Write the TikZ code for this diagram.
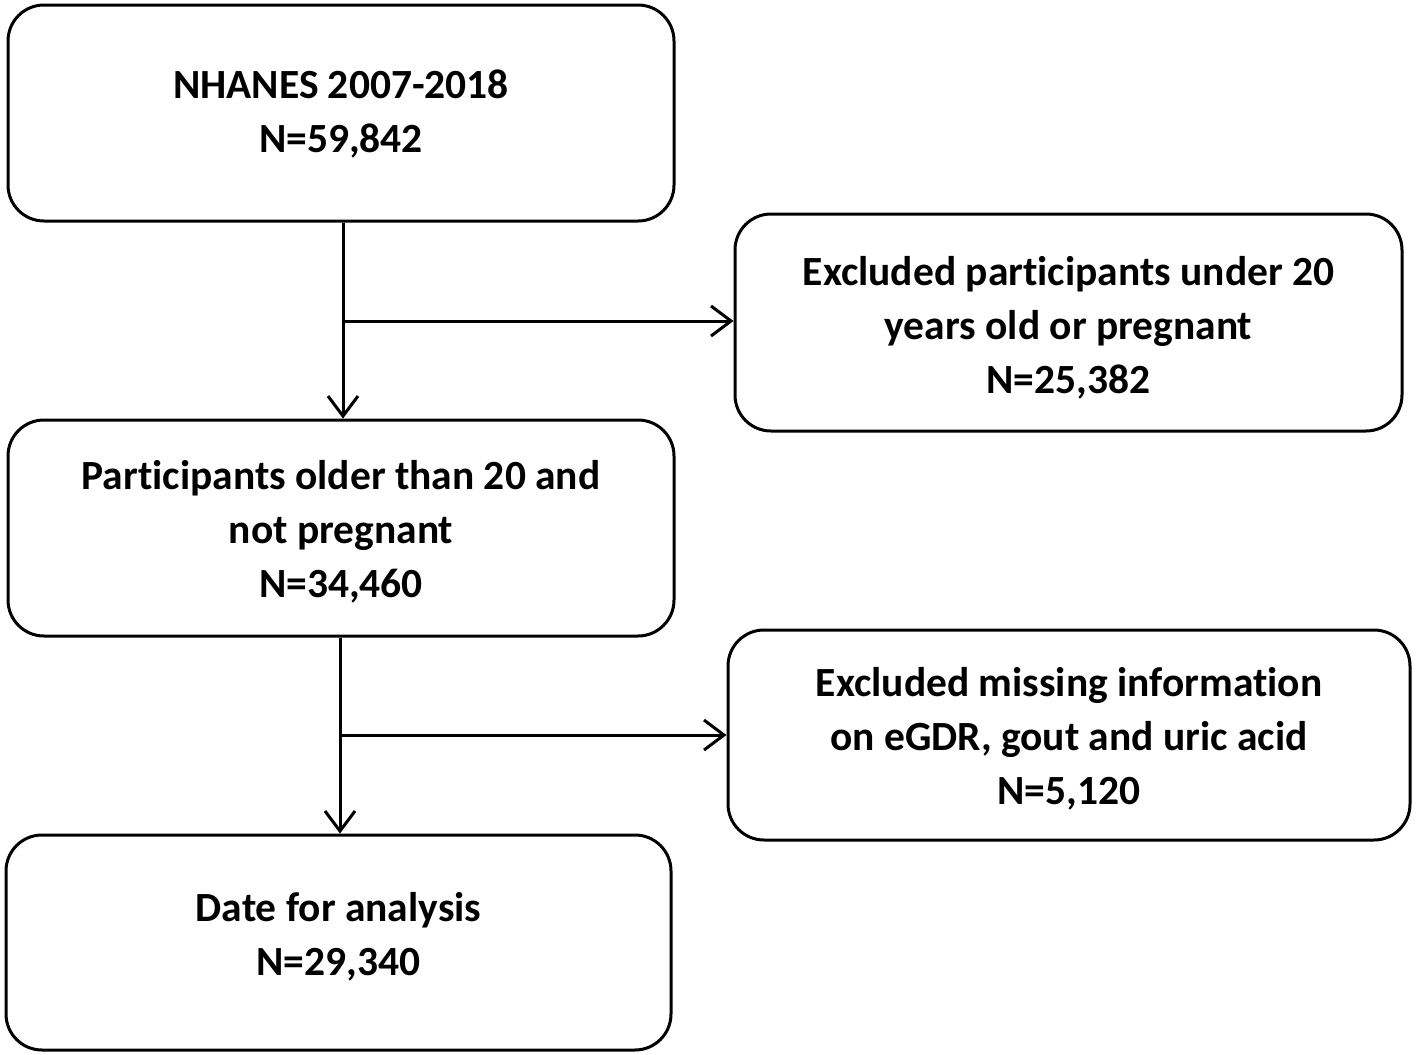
\documentclass[tikz,border=0pt]{standalone}
\usepackage{fontspec}
\setmainfont[Ligatures=NoCommon]{Carlito}
\usetikzlibrary{arrows.meta}
\begin{document}
\begin{tikzpicture}[x=1pt,y=-1pt,
  box/.style={draw=black,line width=3pt,rounded corners=36pt,inner sep=0pt},
  txt/.style={inner sep=0pt,align=center,font=\fontsize{41.5}{54}\selectfont\bfseries,text=black},
  conn/.style={draw=black,line width=3pt},
  arr/.style={conn,-{Straight Barb[length=20pt,width=30pt,line width=3pt]}}]
\useasboundingbox (0,0) rectangle (1417,1055);
\node[box,minimum width=666pt,minimum height=216pt] (b1) at (341,113) {};
\node[box,minimum width=667pt,minimum height=217pt] (b2) at (1068.5,322.5) {};
\node[box,minimum width=666pt,minimum height=216pt] (b3) at (341,528) {};
\node[box,minimum width=682pt,minimum height=210pt] (b4) at (1069,735) {};
\node[box,minimum width=665pt,minimum height=215pt] (b5) at (338.5,942.5) {};
\node[txt] (t1) at ([yshift=-1pt]b1.center) {NHANES 2007-2018\\N=59,842};
\node[txt] (t2) at ([yshift=-5pt]b2.center) {Excluded participants under 20\\years old or pregnant\\N=25,382};
\node[txt] (t3) at ([yshift=-4pt]b3.center) {Participants older than 20 and\\not pregnant\\N=34,460};
\node[txt] (t4) at ([yshift=-4pt]b4.center) {Excluded missing information\\on eGDR, gout and uric acid\\N=5,120};
\node[txt] (t5) at ([yshift=6pt]b5.center) {Date for analysis\\N=29,340};
\coordinate (j1) at (343,321);
\coordinate (j2) at (340,735);
\draw[arr] (b1.south -| j1) -- (b3.north -| j1);
\draw[arr] (j1) -- (b2.west |- j1);
\draw[arr] (b3.south -| j2) -- (b5.north -| j2);
\draw[arr] (j2) -- (b4.west |- j2);
\end{tikzpicture}
\end{document}
